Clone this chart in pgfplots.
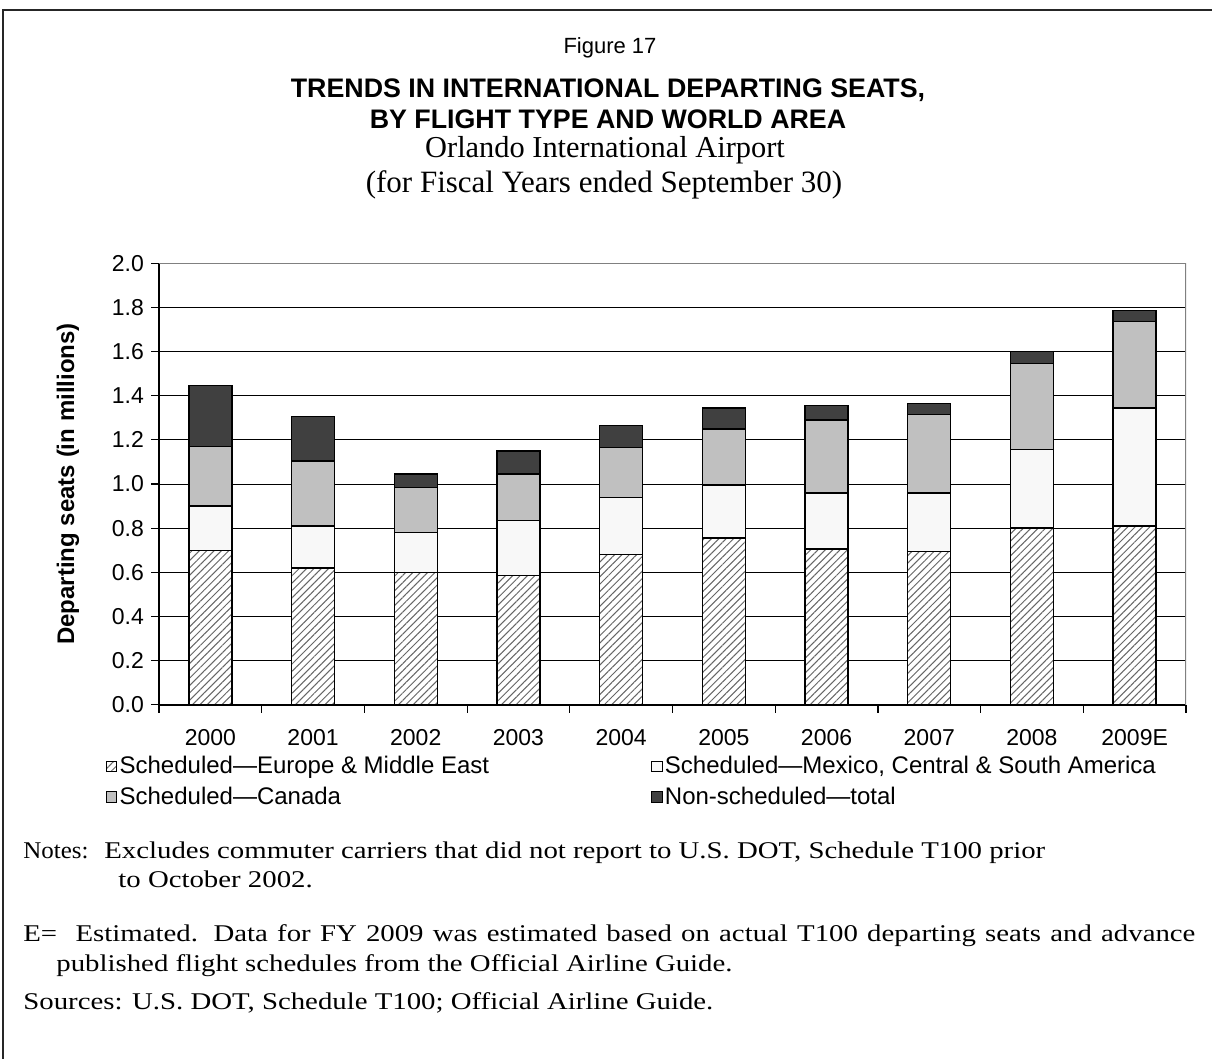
\documentclass[border=0pt]{standalone}
\usepackage{pgfplots}
\pgfplotsset{compat=1.18}
\usepackage{pgfplotstable}
\usetikzlibrary{patterns.meta}
\usepackage{fontspec}
\setmainfont{Liberation Sans}
\newfontfamily\serif{Liberation Serif}
\newfontfamily\notefont[FakeStretch=1.2]{Liberation Serif}
\newfontfamily\notelabel[FakeStretch=1.04]{Liberation Serif}

\definecolor{mexfill}{HTML}{F8F8F8}
\definecolor{canfill}{HTML}{C0C0C0}
\definecolor{nonfill}{HTML}{404040}

% departing seats in millions, by fiscal year (0 = 2000 ... 9 = 2009E)
\pgfplotstableread{
yr eur  mex   can   non
0  0.70  0.20  0.27  0.275
1  0.62  0.19  0.295 0.20
2  0.60  0.18  0.205 0.06
3  0.585 0.25  0.21  0.105
4  0.68  0.26  0.225 0.10
5  0.755 0.24  0.255 0.095
6  0.705 0.255 0.33  0.065
7  0.695 0.265 0.355 0.05
8  0.80  0.355 0.39  0.055
9  0.81  0.535 0.39  0.05
}\seats

\begin{document}
\begin{tikzpicture}
\useasboundingbox (0,0) rectangle (606pt,-529.5pt);

\begin{scope}[x=0.5pt,y=-0.5pt]
\draw[line width=1pt, black!85] (3,1100) -- (3,10) -- (1250,10);
\node[font=\fontsize{11}{13}\selectfont] at (610,48) {Figure 17};
\node[font=\fontsize{13.4}{15.5}\selectfont\bfseries, align=center] at (608,104)
  {TRENDS IN INTERNATIONAL DEPARTING SEATS,\\ BY FLIGHT TYPE AND WORLD AREA};
\node[font=\serif\fontsize{15.2}{17}\selectfont] at (605,150) {Orlando International Airport};
\node[font=\serif\fontsize{15.5}{17}\selectfont] at (604,185) {(for Fiscal Years ended September 30)};
\node[rotate=90, font=\fontsize{12}{14}\selectfont\bfseries] at (68,484) {Departing seats (in millions)};
\end{scope}

\begin{axis}[
  at={(79.5pt,-352.35pt)}, anchor=south west,
  scale only axis, width=513.5pt, height=220.7pt,
  ybar stacked, bar width=21.5pt,
  xmin=-0.5, xmax=9.5, ymin=0, ymax=2,
  xtick={0,...,9},
  xticklabels={2000,2001,2002,2003,2004,2005,2006,2007,2008,2009E},
  minor xtick={-0.5,0.5,...,9.5},
  major x tick style={draw=none},
  ytick={0,0.2,...,2.01},
  axis x line*=bottom, axis y line*=left,
  tick align=outside, major tick length=4pt, minor tick length=4pt,
  tick style={black, line width=0.6pt},
  axis line style={black, line width=0.8pt},
  ymajorgrids, grid style={black, line width=0.5pt},
  ticklabel style={font=\fontsize{11.5}{13}\selectfont},
  /pgf/number format/.cd, fixed, fixed zerofill, precision=1, assume math mode=true,
  /pgfplots/.cd,
  xticklabel style={yshift=-5pt},
  every axis plot/.append style={draw=black, line width=0.7pt},
  legend image code/.code={\draw[#1, line width=0.5pt, draw=black] (0pt,-2.6pt) rectangle (5.2pt,2.6pt);},
  legend columns=2,
  legend cell align=left,
  legend style={draw=none, fill=none, at={(-0.058,-0.0975)}, anchor=north west,
    font=\fontsize{12}{14}\selectfont, row sep=1.2pt,
    /tikz/every odd column/.append style={column sep=-0.8pt},
    /tikz/every even column/.append style={column sep=79pt}},
]
\addplot[fill=white, postaction={pattern color=gray!80!black, pattern={Lines[angle=45,distance=2.6pt,line width=0.5pt]}}]
  table[x=yr,y=eur]{\seats};
\addplot[fill=mexfill] table[x=yr,y=mex]{\seats};
\addplot[fill=canfill] table[x=yr,y=can]{\seats};
\addplot[fill=nonfill] table[x=yr,y=non]{\seats};
\legend{Scheduled---Europe \& Middle East, Scheduled---Mexico{,} Central \& South America,
  Scheduled---Canada, Non-scheduled---total}
\draw[gray, line width=0.8pt] (rel axis cs:0,1) -- (rel axis cs:1,1) -- (rel axis cs:1,0);
\end{axis}

\begin{scope}[x=0.5pt,y=-0.5pt, every node/.style={anchor=base west, inner sep=0pt},
  font=\notefont\fontsize{12}{14}\selectfont]
\node[font=\notelabel\fontsize{12}{14}\selectfont] at (23,858) {Notes:};
\node at (104,858) {Excludes commuter carriers that did not report to U.S. DOT, Schedule T100 prior};
\node at (118,887) {to October 2002.};
\node at (23,941) {\makebox[586pt][s]{E=\ \ Estimated. Data for FY 2009 was estimated based on actual T100 departing seats and advance}};
\node at (56,971) {published flight schedules from the Official Airline Guide.};
\node at (23,1009) {Sources: U.S. DOT, Schedule T100; Official Airline Guide.};
\end{scope}
\end{tikzpicture}
\end{document}
